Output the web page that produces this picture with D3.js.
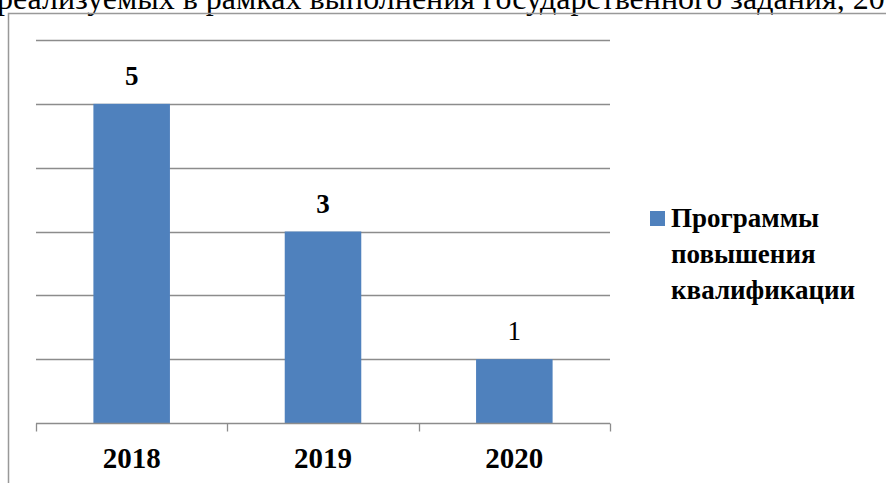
<!DOCTYPE html>
<html>
<head>
<meta charset="utf-8">
<script src="https://cdn.jsdelivr.net/npm/d3@7"></script>
<style>
  body { margin: 0; background: #fff; }
</style>
</head>
<body>
<div id="chart"></div>
<script>
const years = ["2018", "2019", "2020"]
const values = [5, 3, 1]
const boldLabel = [true, true, false]
const yTicks = [0, 1, 2, 3, 4, 5, 6]
const seriesName = ["Программы", "повышения", "квалификации"]
const titleText = "реализуемых в рамках выполнения государственного задания, 2018-2020"

const W = 886, H = 483
const serif = "Liberation Serif"

const svg = d3.select("#chart").append("svg")
    .attr("width", W)
    .attr("height", H)
    .attr("font-family", serif)
    .style("font-family", "'Liberation Serif', serif")

// title line, cut off by the top of the picture
svg.append("text")
    .attr("x", -3)
    .attr("y", 9)
    .attr("font-size", 32)
    .attr("fill", "#000")
    .text(titleText)

// outer chart box (edges run off the picture)
svg.append("rect")
    .attr("x", 8.5)
    .attr("y", 13.5)
    .attr("width", 900)
    .attr("height", 500)
    .attr("fill", "none")
    .attr("stroke", "#999")
    .attr("stroke-width", 1.5)

const x = d3.scaleBand()
    .domain(years)
    .range([36, 610])

const y = d3.scaleLinear()
    .domain([0, 6])
    .range([423, 40])

const g = svg.append("g")

// gridlines
g.selectAll(".grid")
    .data(yTicks.filter(d => d > 0))
    .enter()
    .append("line")
    .attr("x1", 36)
    .attr("x2", 610)
    .attr("y1", d => Math.round(y(d)) + 0.5)
    .attr("y2", d => Math.round(y(d)) + 0.5)
    .attr("stroke", "#8c8c8c")
    .attr("stroke-width", 1.3)

// bars
const barW = x.bandwidth() * 0.4
g.selectAll("rect.bar")
    .data(values)
    .enter()
    .append("rect")
    .attr("class", "bar")
    .attr("x", (d, i) => x(years[i]) + (x.bandwidth() - barW) / 2)
    .attr("y", d => y(d))
    .attr("width", barW)
    .attr("height", d => y(0) - y(d))
    .attr("fill", "#4f81bd")

// x axis
const xAxis = svg.append("g")
    .attr("transform", "translate(0," + (Math.round(y(0)) + 0.5) + ")")
    .call(d3.axisBottom(x).tickSize(0).tickPadding(24))
xAxis.attr("font-family", serif)
xAxis.select(".domain").remove()
xAxis.append("line")
    .attr("x1", 36).attr("x2", 610)
    .attr("stroke", "#8c8c8c").attr("stroke-width", 1.3)
xAxis.selectAll(".sep")
    .data(years.map(d => x(d)).concat([610]))
    .enter()
    .append("line")
    .attr("x1", d => Math.round(d) + 0.5)
    .attr("x2", d => Math.round(d) + 0.5)
    .attr("y1", 0).attr("y2", 8)
    .attr("stroke", "#8c8c8c").attr("stroke-width", 1.3)
xAxis.selectAll(".tick text")
    .attr("font-family", serif)
    .attr("font-size", 29)
    .attr("font-weight", "bold")
    .attr("fill", "#000")
    .attr("dy", "0.71em")

// value labels
g.selectAll(".val")
    .data(values)
    .enter()
    .append("text")
    .attr("x", (d, i) => x(years[i]) + x.bandwidth() / 2)
    .attr("y", d => y(d) - 19)
    .attr("text-anchor", "middle")
    .attr("font-family", serif)
    .attr("font-size", 27)
    .attr("font-weight", (d, i) => boldLabel[i] ? "bold" : "normal")
    .text(d => d)

// legend
const leg = svg.append("g")
leg.append("rect")
    .attr("x", 650).attr("y", 211)
    .attr("width", 15).attr("height", 15)
    .attr("fill", "#4f81bd")
leg.selectAll("text")
    .data(seriesName)
    .enter()
    .append("text")
    .attr("x", 671)
    .attr("y", (d, i) => 227 + i * 36)
    .attr("font-family", serif)
    .attr("font-size", 27)
    .attr("font-weight", "bold")
    .text(d => d)
</script>
</body>
</html>
